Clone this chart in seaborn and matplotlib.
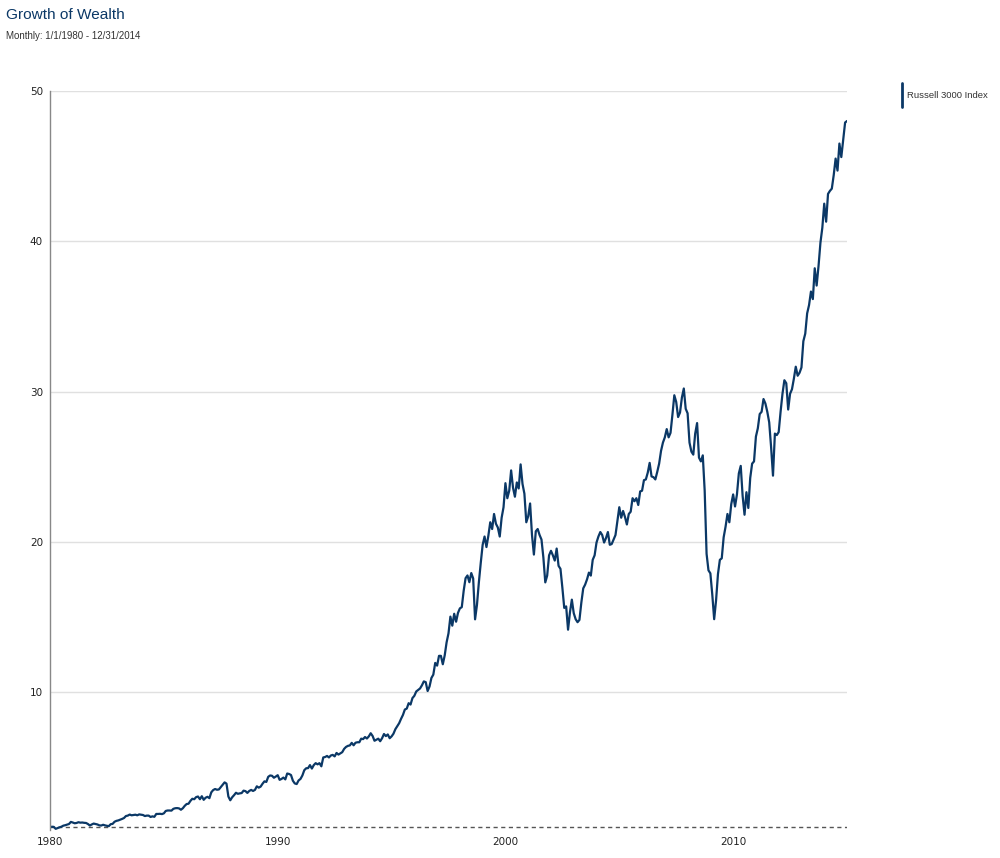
import numpy as np
import pandas as pd
import matplotlib
matplotlib.use("Agg")
import matplotlib.pyplot as plt
from matplotlib.lines import Line2D
import seaborn as sns

# ---- data (growth of $1, month-end values) ----
start_value = [1.00]
wealth_1980s = [
    1.04, 1.03, 0.90, 0.95, 1.00, 1.04, 1.11, 1.14, 1.18, 1.22, 1.36, 1.32,
    1.27, 1.29, 1.34, 1.31, 1.32, 1.30, 1.29, 1.22, 1.12, 1.19, 1.25, 1.22,
    1.19, 1.13, 1.12, 1.17, 1.13, 1.10, 1.08, 1.21, 1.23, 1.37, 1.43, 1.46,
    1.51, 1.56, 1.62, 1.75, 1.78, 1.85, 1.80, 1.82, 1.84, 1.80, 1.86, 1.84,
    1.82, 1.75, 1.78, 1.78, 1.69, 1.73, 1.70, 1.89, 1.89, 1.90, 1.88, 1.93,
    2.09, 2.12, 2.12, 2.11, 2.23, 2.27, 2.28, 2.26, 2.17, 2.27, 2.43, 2.55,
    2.57, 2.76, 2.90, 2.87, 3.01, 3.05, 2.87, 3.07, 2.83, 2.97, 3.03, 2.94,
    3.33, 3.48, 3.55, 3.50, 3.52, 3.68, 3.85, 3.99, 3.91, 3.05, 2.80, 3.00,
    3.14, 3.30, 3.23, 3.26, 3.28, 3.44, 3.41, 3.29, 3.42, 3.49, 3.42, 3.49,
    3.73, 3.64, 3.71, 3.90, 4.06, 4.02, 4.36, 4.45, 4.43, 4.30, 4.38, 4.47,
]
wealth_1990s = [
    4.16, 4.22, 4.31, 4.19, 4.58, 4.55, 4.48, 4.10, 3.92, 3.88, 4.12, 4.22,
    4.45, 4.80, 4.93, 4.94, 5.14, 4.91, 5.14, 5.27, 5.19, 5.27, 5.06, 5.65,
    5.68, 5.75, 5.65, 5.78, 5.82, 5.72, 5.95, 5.84, 5.92, 6.00, 6.22, 6.35,
    6.42, 6.45, 6.62, 6.46, 6.63, 6.66, 6.66, 6.90, 6.87, 7.01, 6.91, 7.05,
    7.26, 7.08, 6.76, 6.83, 6.90, 6.73, 6.93, 7.21, 7.07, 7.18, 6.93, 7.05,
    7.23, 7.53, 7.73, 7.93, 8.22, 8.48, 8.84, 8.90, 9.26, 9.17, 9.60, 9.75,
    10.04, 10.14, 10.24, 10.45, 10.71, 10.66, 10.07, 10.37, 10.94, 11.16, 11.94, 11.76,
    12.41, 12.41, 11.85, 12.44, 13.31, 13.91, 15.02, 14.42, 15.21, 14.68, 15.27, 15.57,
    15.65, 16.74, 17.58, 17.76, 17.31, 17.92, 17.56, 14.84, 15.80, 17.30, 18.60, 19.80,
    20.35, 19.65, 20.40, 21.30, 20.85, 21.85, 21.20, 20.95, 20.35, 21.60, 22.30, 23.90,
]
wealth_2000s = [
    22.90, 23.40, 24.75, 23.60, 23.00, 23.95, 23.55, 25.15, 23.85, 23.20, 21.30, 21.70,
    22.55, 20.45, 19.15, 20.70, 20.85, 20.45, 20.15, 18.95, 17.30, 17.75, 19.10, 19.40,
    19.10, 18.75, 19.55, 18.40, 18.20, 16.95, 15.60, 15.70, 14.15, 15.30, 16.15, 15.25,
    14.85, 14.65, 14.80, 15.95, 16.90, 17.15, 17.50, 17.95, 17.75, 18.80, 19.10, 19.95,
    20.35, 20.65, 20.45, 19.95, 20.25, 20.65, 19.80, 19.85, 20.15, 20.45, 21.40, 22.30,
    21.60, 22.05, 21.65, 21.15, 21.85, 22.00, 22.90, 22.70, 22.90, 22.45, 23.35, 23.40,
    24.10, 24.15, 24.60, 25.25, 24.35, 24.30, 24.15, 24.65, 25.20, 26.05, 26.60, 26.95,
    27.50, 26.95, 27.25, 28.45, 29.75, 29.30, 28.30, 28.60, 29.60, 30.20, 28.85, 28.55,
    26.60, 26.00, 25.80, 27.20, 27.90, 25.60, 25.35, 25.75, 23.40, 19.20, 18.10, 17.90,
    16.50, 14.85, 16.10, 17.85, 18.80, 18.90, 20.30, 21.00, 21.85, 21.30, 22.50, 23.15,
]
wealth_2010s = [
    22.35, 23.15, 24.55, 25.05, 23.05, 21.80, 23.30, 22.25, 24.25, 25.20, 25.35, 27.00,
    27.55, 28.50, 28.65, 29.50, 29.20, 28.65, 27.95, 26.30, 24.40, 27.20, 27.10, 27.30,
    28.65, 29.85, 30.75, 30.55, 28.80, 29.85, 30.15, 30.85, 31.65, 31.05, 31.25, 31.60,
    33.35, 33.85, 35.20, 35.75, 36.65, 36.15, 38.20, 37.05, 38.35, 39.90, 40.90, 42.50,
    41.30, 43.15, 43.35, 43.50, 44.40, 45.50, 44.70, 46.50, 45.60, 46.75, 47.90, 48.00,
]
series_name = "Russell 3000 Index"
x_ticks = [1980, 1990, 2000, 2010]
y_ticks = [10, 20, 30, 40, 50]
baseline = 1.0

values = start_value + wealth_1980s + wealth_1990s + wealth_2000s + wealth_2010s
df = pd.DataFrame({
    "year": 1980 + np.arange(len(values)) / 12.0,
    "wealth": values,
})

# ---- style ----
sns.set_style("white")
plt.rcParams["font.family"] = ["DejaVu Sans"]

line_color = "#0b3866"
fig = plt.figure(figsize=(10, 8.58), dpi=100)
ax = fig.add_axes([0.050, 0.0326, 0.797, 0.8614])

sns.lineplot(data=df, x="year", y="wealth", ax=ax, color=line_color,
             linewidth=1.6, legend=False)
ax.axhline(baseline, color="#555555", linestyle=(0, (3, 2.5)), linewidth=1.0, zorder=1)

ax.set_xlim(1980, 2015)
ax.set_ylim(0.82, 50)
ax.set_xticks(x_ticks)
ax.set_xticklabels([str(t) for t in x_ticks])
ax.set_yticks(y_ticks)
ax.set_yticklabels([str(t) for t in y_ticks])
ax.set_xlabel("")
ax.set_ylabel("")
ax.yaxis.grid(True, color="#e0e0e0", linewidth=1.0)
ax.xaxis.grid(False)
for s in ["top", "right", "bottom"]:
    ax.spines[s].set_visible(False)
ax.spines["left"].set_color("#888888")
ax.spines["left"].set_linewidth(1.0)
ax.tick_params(axis="both", length=0, labelsize=7.5, colors="#222222")
ax.tick_params(axis="y", pad=5)
ax.tick_params(axis="x", pad=5)

# ---- titles ----
fig.text(0.006, 1 - 8 / 858, "Growth of Wealth", ha="left", va="top",
         fontsize=11.1, color="#0b3866", family=["Liberation Sans", "DejaVu Sans"])
fig.text(0.006, 1 - 31 / 858, "Monthly: 1/1/1980 - 12/31/2014", ha="left", va="top",
         fontsize=7.0, color="#333333", family=["Liberation Sans", "DejaVu Sans"])

# ---- legend ----
fig.add_artist(Line2D([0.902, 0.902], [1 - 83 / 858, 1 - 107 / 858],
                      transform=fig.transFigure, color=line_color, linewidth=2))
fig.text(0.907, 1 - 95 / 858, series_name, ha="left", va="center",
         fontsize=6.8, color="#333333", family=["Liberation Sans", "DejaVu Sans"])

fig.savefig("out.png", dpi=100)
